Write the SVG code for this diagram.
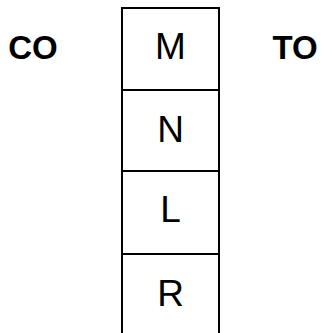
<svg xmlns="http://www.w3.org/2000/svg" width="325" height="333" viewBox="0 0 325 333">
<style>
.box{fill:#fff;stroke:#000;stroke-width:2}
.t{font-family:"Liberation Sans",Arial,sans-serif;font-size:37px;text-anchor:middle;fill:#000}
.b{font-family:"Liberation Sans",Arial,sans-serif;font-size:33px;font-weight:bold;text-anchor:middle;fill:#000}
</style>
<rect width="325" height="333" fill="#fff"/>
<g id="M"><rect class="box" x="122" y="8" width="97" height="82"/><text class="t" x="170.5" y="59">M</text></g>
<g id="N"><rect class="box" x="122" y="90" width="97" height="81"/><text class="t" x="170.5" y="142">N</text></g>
<g id="L"><rect class="box" x="122" y="171" width="97" height="83"/><text class="t" x="170.5" y="222">L</text></g>
<g id="R"><rect class="box" x="122" y="254" width="97" height="82"/><text class="t" x="170.5" y="306">R</text></g>
<g id="CO"><text class="b" x="33" y="59">CO</text></g>
<g id="TO"><text class="b" x="295" y="59">TO</text></g>
<g id="connectors"></g>
</svg>
